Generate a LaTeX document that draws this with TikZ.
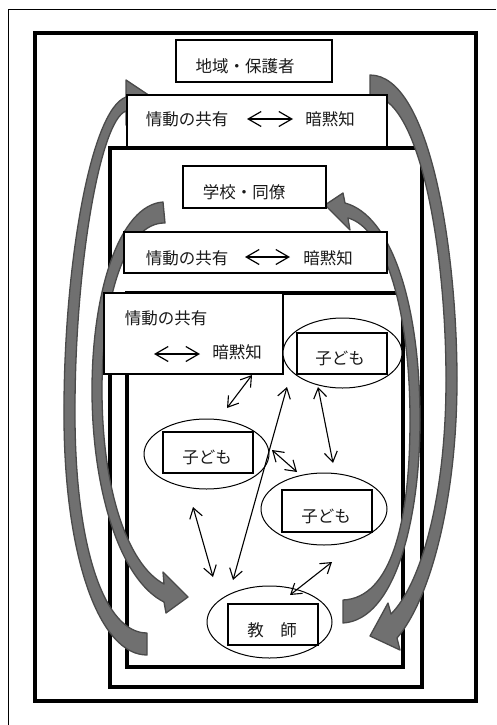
\documentclass[tikz,border=0pt]{standalone}
\usepackage{fontspec}
\newfontfamily\cjk{Noto Sans CJK JP}
\usetikzlibrary{arrows.meta,shapes.geometric}
\definecolor{bandfill}{HTML}{707070}
\definecolor{bandline}{HTML}{4A4A4A}
\definecolor{inkc}{HTML}{1A1A1A}
\begin{document}
\begin{tikzpicture}[x=1pt,y=-1pt,
  frame/.style={line width=4pt},
  box/.style={draw, fill=white, line width=1.2pt, rectangle, inner sep=0pt},
  oval/.style={draw, fill=white, ellipse, line width=1pt, inner sep=0pt},
  txt/.style={font=\cjk\fontsize{16.5}{20}\selectfont, text=inkc, inner sep=0pt},
  link/.style={line width=1.1pt, {Straight Barb[length=10pt,width=13pt]}-{Straight Barb[length=10pt,width=13pt]}},
  swap/.style={line width=1.2pt, {Straight Barb[length=13pt,width=15pt]}-{Straight Barb[length=13pt,width=15pt]}},
  band/.style={fill=bandfill, draw=bandline, line width=1.3pt, line join=round}]
\useasboundingbox (0,0) rectangle (496,725);
\fill[white] (0,0) rectangle (496,725);
% thin outer frame
\draw[line width=1pt] (8,725) -- (8,10) -- (496,10);
% thick frames
\draw[frame] (35,33) rectangle (476,701);
\draw[frame] (110,148) rectangle (422,687);
\draw[frame] (127,293) rectangle (403,667);
% gray curved arrows
\filldraw[band] (147,655) .. controls (100,655) and (65,560) .. (64,420)
  .. controls (63,270) and (90,110) .. (126,97) -- (126,80) -- (162,104) -- (126,125) -- (126,111)
  .. controls (100,120) and (74,270) .. (75,420) .. controls (76,550) and (105,633) .. (147,633) -- cycle;
\filldraw[band] (163,202) .. controls (120,205) and (92,290) .. (92,390)
  .. controls (92,490) and (120,580) .. (164,602) -- (166,613) -- (188,597) -- (163,572) -- (164,584)
  .. controls (128,565) and (102,490) .. (102,390) .. controls (102,300) and (125,222) .. (165,223) -- cycle;
\filldraw[band] (370,75) .. controls (430,75) and (457,250) .. (457,380)
  .. controls (457,500) and (430,600) .. (397,638) -- (400,650) -- (370,636) -- (388,603) -- (391,614)
  .. controls (420,585) and (446,500) .. (446,380) .. controls (446,250) and (420,95) .. (370,95) -- cycle;
\filldraw[band] (343,623) .. controls (395,620) and (420,520) .. (420,420)
  .. controls (420,300) and (390,215) .. (345,203) -- (343,193) -- (325,205) -- (350,230) -- (348,218)
  .. controls (385,228) and (410,310) .. (410,420) .. controls (410,520) and (392,598) .. (343,600) -- cycle;
% boxes
\node[box, minimum width=156pt, minimum height=42pt] (b0) at (254,61) {};
\node[box, minimum width=260pt, minimum height=52pt] (b1) at (257,121) {};
\node[box, minimum width=143pt, minimum height=42pt] (b2) at (254.5,187) {};
\node[box, minimum width=263pt, minimum height=41pt] (b3) at (255.5,252.5) {};
\node[box, minimum width=179pt, minimum height=81pt] (b4) at (193.5,333.5) {};
% ellipses with inner boxes
\node[oval, minimum width=119pt, minimum height=70pt] (e1) at (342.5,353) {};
\node[oval, minimum width=125pt, minimum height=70pt] (e2) at (206.5,454) {};
\node[oval, minimum width=126pt, minimum height=72pt] (e3) at (324,509) {};
\node[oval, minimum width=125pt, minimum height=72pt] (e4) at (269.5,622) {};
\node[box, minimum width=90pt, minimum height=41pt] (r1) at (342,353.5) {};
\node[box, minimum width=90pt, minimum height=41pt] (r2) at (208,452.5) {};
\node[box, minimum width=90pt, minimum height=42pt] (r3) at (327,511) {};
\node[box, minimum width=90pt, minimum height=41pt] (r4) at (273,624.5) {};
% texts
\node[txt] (t0) at (245,66) {地域・保護者};
\node[txt] (t1a) at (187,119) {情動の共有};
\node[txt] (t1b) at (330,119) {暗黙知};
\node[txt] (t2) at (244,192) {学校・同僚};
\node[txt] (t3a) at (187,258) {情動の共有};
\node[txt] (t3b) at (328,258) {暗黙知};
\node[txt] (t4a) at (166,318) {情動の共有};
\node[txt] (t4b) at (237,352) {暗黙知};
\node[txt] (k1) at (340,358) {子ども};
\node[txt] (k2) at (207,457) {子ども};
\node[txt] (k3) at (326,516) {子ども};
\node[txt] (k4) at (272,630) {教　師};
% in-box double arrows
\coordinate (s1a) at (247,119); \coordinate (s1b) at (293,119);
\coordinate (s3a) at (245,257); \coordinate (s3b) at (290,257);
\coordinate (s4a) at (154,354); \coordinate (s4b) at (200,354);
\draw[swap] (s1a) -- (s1b);
\draw[swap] (s3a) -- (s3b);
\draw[swap] (s4a) -- (s4b);
% thin connectors
\coordinate (c1a) at (252,375); \coordinate (c1b) at (227,408);
\coordinate (c2a) at (287,387); \coordinate (c2b) at (233,580);
\coordinate (c3a) at (318,387); \coordinate (c3b) at (333,463);
\coordinate (c4a) at (272,450); \coordinate (c4b) at (297,472);
\coordinate (c5a) at (193,507); \coordinate (c5b) at (213,577);
\coordinate (c6a) at (290,595); \coordinate (c6b) at (332,562);
\draw[link] (c1a) -- (c1b);
\draw[link] (c2a) -- (c2b);
\draw[link] (c3a) -- (c3b);
\draw[link] (c4a) -- (c4b);
\draw[link] (c5a) -- (c5b);
\draw[link] (c6a) -- (c6b);
\end{tikzpicture}
\end{document}
